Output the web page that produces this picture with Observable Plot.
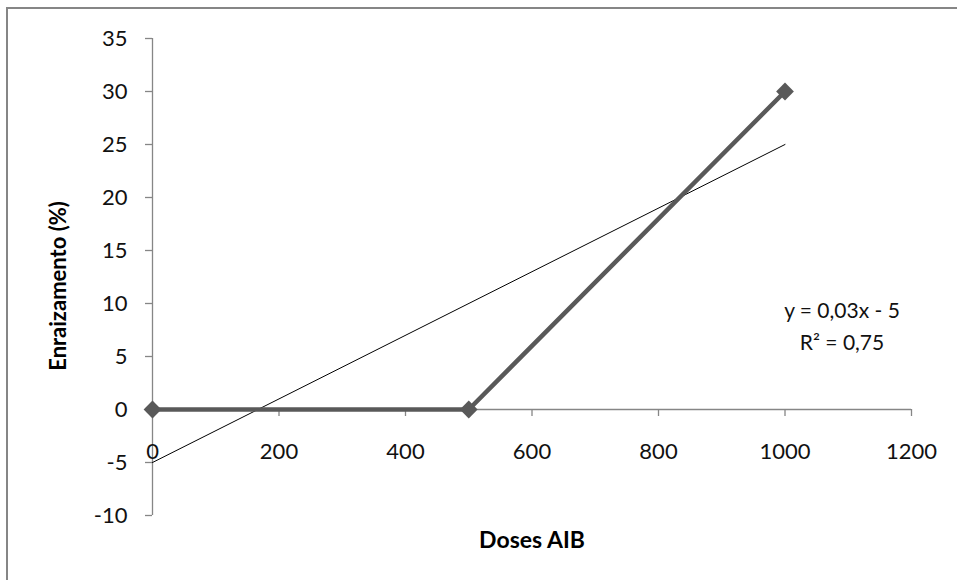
<!DOCTYPE html>
<html>
<head>
<meta charset="utf-8">
<script src="https://cdn.jsdelivr.net/npm/d3@7"></script>
<script src="https://cdn.jsdelivr.net/npm/@observablehq/plot@0.6"></script>
<style>
  html, body { margin: 0; padding: 0; background: #fff; }
  #wrap { position: relative; width: 957px; height: 580px; overflow: hidden; }
  #border { position: absolute; left: 6px; top: 7px; right: -10px; bottom: -10px;
            border-top: 2px solid #868686; border-left: 2px solid #868686; }
  #chart { position: absolute; left: 0; top: 0; }
</style>
</head>
<body>
<div id="wrap"><div id="border"></div><div id="chart"></div></div>
<script>
const doses = [0, 500, 1000];
const enraizamento = [0, 0, 30];
const xTicks = [0, 200, 400, 600, 800, 1000, 1200];
const yTicks = [-10, -5, 0, 5, 10, 15, 20, 25, 30, 35];
const xLabel = "Doses AIB";
const yLabel = "Enraizamento (%)";
const equation = "y = 0,03x - 5";
const r2 = "R² = 0,75";

const data = doses.map((d, i) => ({x: d, y: enraizamento[i]}));
const font = "Lato, 'Open Sans', sans-serif";
const axisColor = "#868686";

const plot = Plot.plot({
  width: 957,
  height: 580,
  marginLeft: 152,
  marginRight: 46,
  marginTop: 38,
  marginBottom: 65,
  style: {fontFamily: font, background: "transparent"},
  x: {domain: [0, 1200], axis: null},
  y: {domain: [-10, 35], axis: null},
  marks: [
    // axis lines
    Plot.ruleX([0], {stroke: axisColor, strokeWidth: 1.3}),
    Plot.ruleY([0], {x1: 0, x2: 1200, stroke: axisColor, strokeWidth: 1.3}),
    // x ticks (downward from y=0)
    Plot.ruleX(xTicks, {x: d => d, y1: 0, y2: 0, insetBottom: -7, stroke: axisColor, strokeWidth: 1.3}),
    // y ticks (leftward from x=0)
    Plot.ruleY(yTicks, {y: d => d, x1: 0, x2: 0, insetLeft: -7, stroke: axisColor, strokeWidth: 1.3}),
    // tick labels
    Plot.text(xTicks, {x: d => d, y: 0, text: d => String(d), dy: 42, fontSize: 22, fill: "#111"}),
    Plot.text(yTicks, {x: 0, y: d => d, text: d => String(d), dx: -25, textAnchor: "end", fontSize: 22, fill: "#111"}),
    // trendline (linear regression of the series)
    Plot.linearRegressionY(data, {x: "x", y: "y", ci: 0, stroke: "#000", strokeWidth: 1}),
    // series
    Plot.line(data, {x: "x", y: "y", stroke: "#595959", strokeWidth: 4.5}),
    Plot.dot(data, {x: "x", y: "y", symbol: "diamond2", r: 8, fill: "#595959", stroke: "none"}),
    // annotation
    Plot.text([equation], {x: 1000, y: 10, text: d => d, dx: 57, dy: 8, fontSize: 21, fill: "#111"}),
    Plot.text([r2], {x: 1000, y: 10, text: d => d, dx: 57, dy: 40, fontSize: 21, fill: "#111"}),
    // axis titles
    Plot.text([xLabel], {frameAnchor: "bottom", textAnchor: "middle", text: d => d, dx: 0, dy: 32, fontSize: 23, fontWeight: "bold", fill: "#000"}),
    Plot.text([yLabel], {frameAnchor: "left", textAnchor: "middle", text: d => d, dx: -94, dy: 9, rotate: -90, fontSize: 22, fontWeight: "bold", fill: "#000"})
  ]
});
document.getElementById("chart").appendChild(plot);
</script>
</body>
</html>
